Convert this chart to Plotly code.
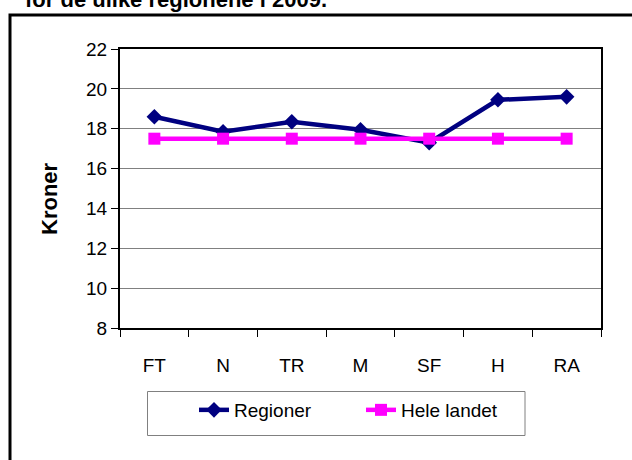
import plotly.graph_objects as go

categories = ["FT", "N", "TR", "M", "SF", "H", "RA"]
regioner = [18.6, 17.85, 18.35, 17.95, 17.3, 19.45, 19.6]
hele_landet = [17.5, 17.5, 17.5, 17.5, 17.5, 17.5, 17.5]
y_ticks = [8, 10, 12, 14, 16, 18, 20, 22]

FONT = "Liberation Sans, Arial, sans-serif"

fig = go.Figure()
fig.add_trace(go.Scatter(
    x=categories, y=regioner, name="Regioner", mode="lines+markers",
    line=dict(color="#000080", width=4.5),
    marker=dict(symbol="diamond", size=12, color="#000080"),
))
fig.add_trace(go.Scatter(
    x=categories, y=hele_landet, name="Hele landet", mode="lines+markers",
    line=dict(color="#FF00FF", width=4.5),
    marker=dict(symbol="square", size=12, color="#FF00FF"),
))

L, R, T, B = 120, 601, 49, 328
W, H = 632, 460

def px(x):
    return (x - L) / (R - L)

def py(y):
    return (B - y) / (B - T)

fig.update_layout(
    width=W, height=H,
    margin=dict(l=L, r=W - R, t=T, b=H - B, autoexpand=False),
    paper_bgcolor="white", plot_bgcolor="white",
    font=dict(family=FONT, size=19, color="black"),
    showlegend=True,
    legend=dict(
        orientation="h", x=px(194), xanchor="left", y=py(410), yanchor="middle",
        entrywidth=122, entrywidthmode="pixels",
        font=dict(size=19), bgcolor="rgba(0,0,0,0)", borderwidth=0,
    ),
    xaxis=dict(
        type="category", range=[-0.5, 6.5], automargin=False,
        showline=True, linecolor="black", linewidth=2, mirror=True,
        ticks="outside", tickson="boundaries", ticklen=7, tickcolor="black",
        showgrid=False, tickfont=dict(size=19), ticklabelstandoff=19,
    ),
    yaxis=dict(
        range=[8, 22], tickvals=y_ticks, ticksuffix="\u00a0\u00a0\u2009",
        automargin=False,
        showline=True, linecolor="black", linewidth=2, mirror=True,
        ticks="outside", ticklen=7, tickcolor="black",
        showgrid=True, gridcolor="#808080", gridwidth=1,
        tickfont=dict(size=19),
    ),
    shapes=[
        dict(type="rect", xref="paper", yref="paper",
             x0=px(10), x1=px(660), y0=py(490), y1=py(15),
             line=dict(color="black", width=3), fillcolor="rgba(0,0,0,0)", layer="below"),
        dict(type="rect", xref="paper", yref="paper",
             x0=px(147.5), x1=px(525), y0=py(435.5), y1=py(391.5),
             line=dict(color="#808080", width=1), fillcolor="rgba(0,0,0,0)", layer="below"),
    ],
    annotations=[
        dict(text="<b>for de ulike regionene i 2009.</b>", xref="paper", yref="paper",
             x=px(23), y=py(-1), xanchor="left", yanchor="middle", showarrow=False,
             font=dict(size=22, family=FONT)),
        dict(text="<b>Kroner</b>", xref="paper", yref="paper", textangle=-90,
             x=px(49), y=py(199), xanchor="center", yanchor="middle", showarrow=False,
             font=dict(size=22, family=FONT)),
    ],
)

fig.write_html("out.html", config={"displayModeBar": False},
               post_script="document.body.style.margin='0';")
